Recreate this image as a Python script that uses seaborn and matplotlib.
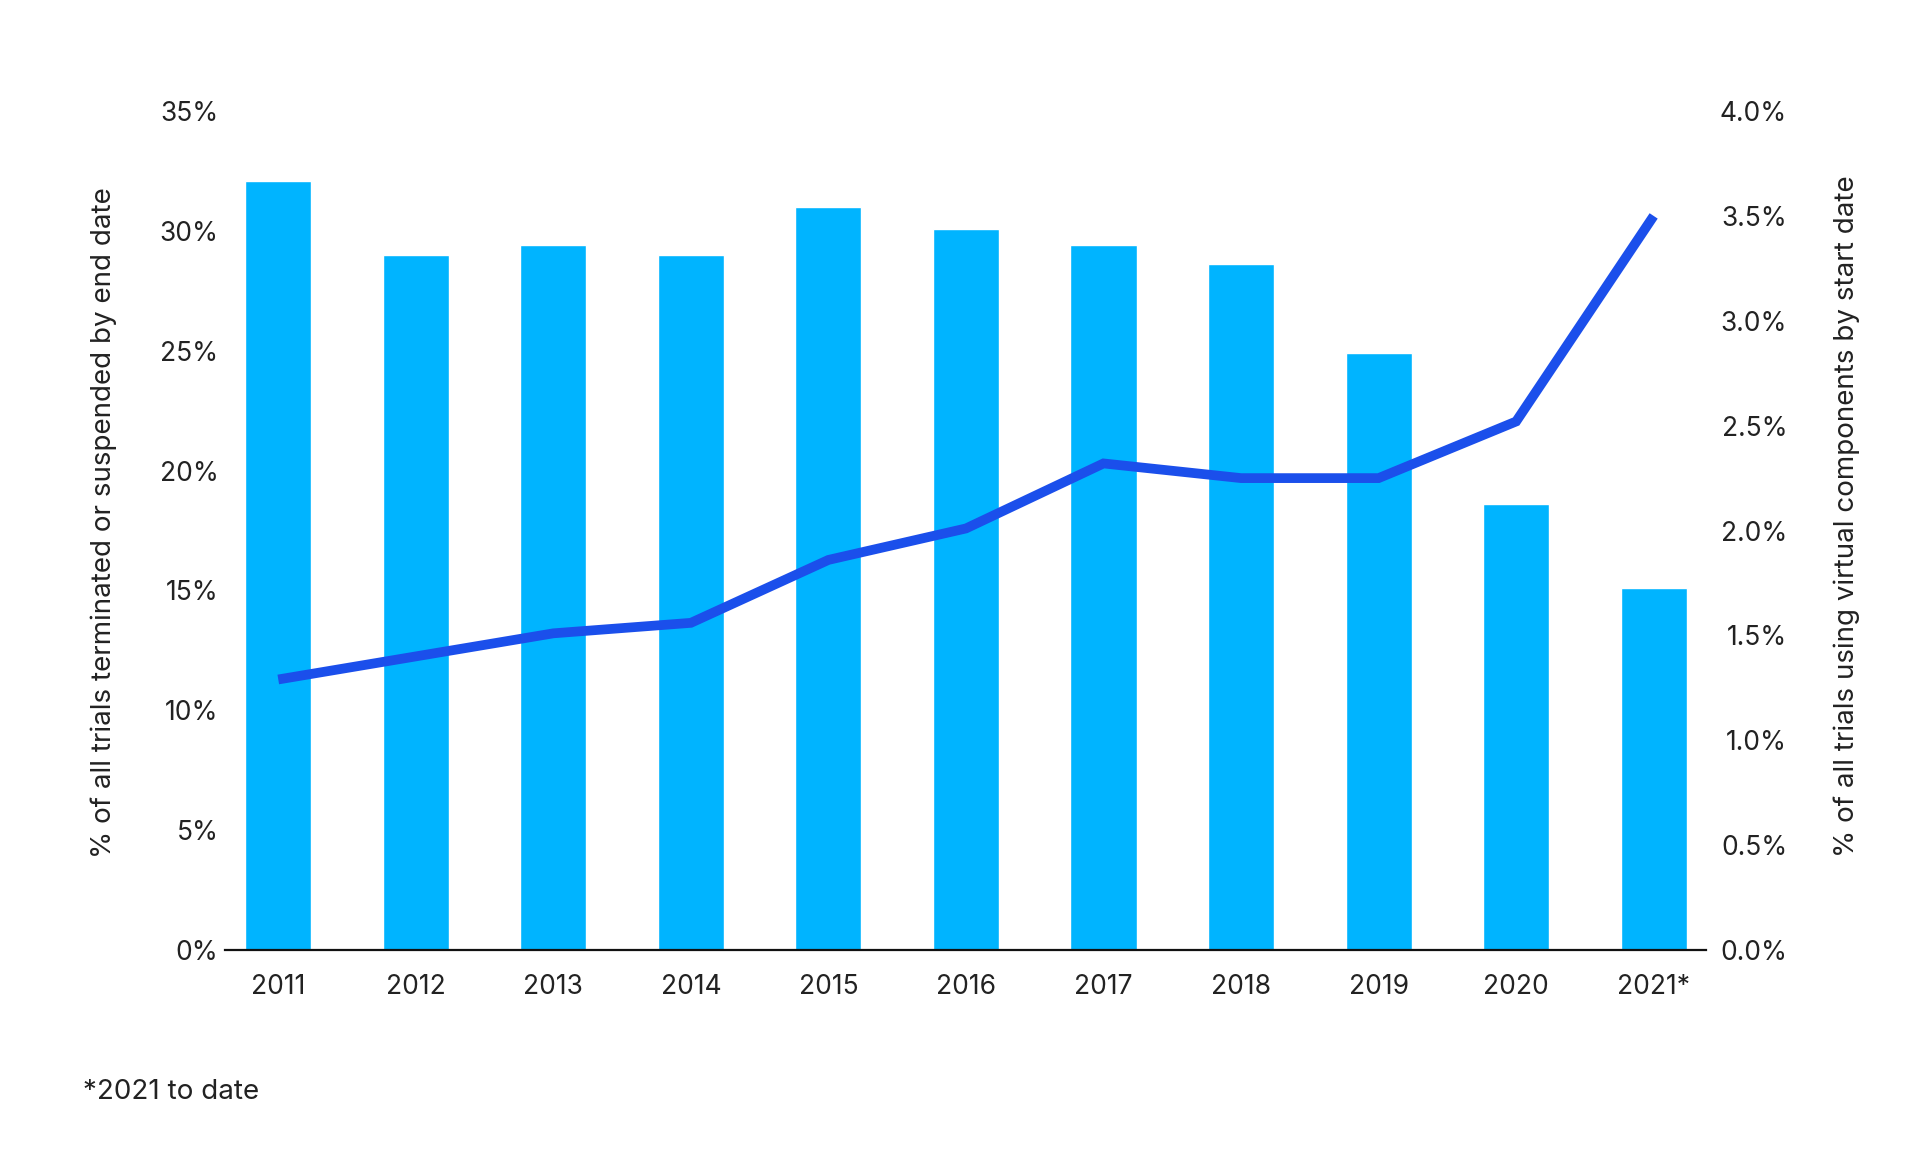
import matplotlib
matplotlib.use("Agg")
import matplotlib.pyplot as plt
import seaborn as sns
import numpy as np
import pandas as pd

years = ["2011", "2012", "2013", "2014", "2015", "2016", "2017", "2018", "2019", "2020", "2021*"]
terminated_pct = [32.1, 29.0, 29.4, 29.0, 31.0, 30.1, 29.4, 28.6, 24.9, 18.6, 15.1]
virtual_pct = [1.29, 1.40, 1.51, 1.56, 1.86, 2.01, 2.32, 2.25, 2.25, 2.52, 3.50]
left_ticks = [0, 5, 10, 15, 20, 25, 30, 35]
right_ticks = [0.0, 0.5, 1.0, 1.5, 2.0, 2.5, 3.0, 3.5, 4.0]

sns.set_theme(style="white")
plt.rcParams['font.family'] = ['Inter', 'DejaVu Sans']
TXT = "#222222"

df = pd.DataFrame({"year": years, "term": terminated_pct, "virt": virtual_pct})
df["pos"] = np.arange(len(df))

fig = plt.figure(figsize=(19.2, 11.64), dpi=100)
ax = fig.add_axes([0.117, 0.1838, 0.7715, 0.7208])

sns.barplot(data=df, x="year", y="term", color="#00B4FF", saturation=1, width=0.48, ax=ax)
ax.set_ylim(0, 35)
ax.set_xlim(-0.39, 10.38)
ax.set_yticks(left_ticks)
ax.set_yticklabels([f"{t}%" for t in left_ticks])
ax.set_xlabel("")
ax.set_ylabel("% of all trials terminated or suspended by end date", fontsize=20, color=TXT)
ax.yaxis.set_label_coords(-0.0729, 0.51)
ax.tick_params(axis="y", length=0, pad=4.5, labelsize=19, labelcolor=TXT)
ax.tick_params(axis="x", length=0, pad=17, labelsize=19, labelcolor=TXT)
for s in ["top", "right", "left"]:
    ax.spines[s].set_visible(False)
ax.spines["bottom"].set_color("#111111")
ax.spines["bottom"].set_linewidth(1.6)

ax2 = ax.twinx()
sns.lineplot(data=df, x="pos", y="virt", color="#1B4FEB", linewidth=7, ax=ax2,
             solid_capstyle="butt", solid_joinstyle="miter")
ax2.set_ylim(0, 4.0)
ax2.set_yticks(right_ticks)
ax2.set_yticklabels([f"{t:.1f}%" for t in right_ticks])
for lbl in ax2.get_yticklabels():
    lbl.set_horizontalalignment("right")
ax2.tick_params(axis="y", length=0, pad=58.5, labelsize=19, labelcolor=TXT)
ax2.set_ylabel("% of all trials using virtual components by start date", fontsize=20, color=TXT, rotation=90)
ax2.yaxis.set_label_coords(1.0858, 0.517)
ax2.set_xlabel("")
for s in ["top", "right", "left", "bottom"]:
    ax2.spines[s].set_visible(False)
ax2.set_xlim(-0.39, 10.38)

fig.text(83 / 1920, 1 - 1092 / 1164, "*2021 to date", fontsize=20, color=TXT, va="center", ha="left")

fig.savefig("out.png", dpi=100, facecolor="white")
